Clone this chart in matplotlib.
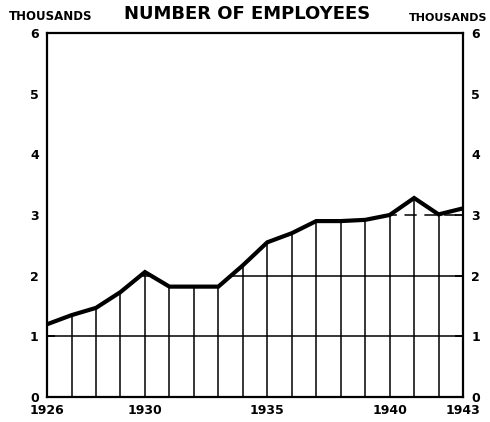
import matplotlib
matplotlib.use("Agg")
import matplotlib.pyplot as plt
import numpy as np

# employees, thousands
years = [1926, 1927, 1928, 1929, 1930, 1931, 1932, 1933, 1934,
         1935, 1936, 1937, 1938, 1939, 1940, 1941, 1942, 1943]
employees = [1.2, 1.35, 1.47, 1.73, 2.06, 1.82, 1.82, 1.82, 2.17,
             2.55, 2.7, 2.9, 2.9, 2.92, 3.0, 3.28, 3.01, 3.11]
year_labels = [1926, 1930, 1935, 1940, 1943]
y_ticks = [0, 1, 2, 3, 4, 5, 6]

fig = plt.figure(figsize=(4.9, 4.22), dpi=100)
ax = fig.add_axes([0.096, 0.059, 0.849, 0.863])

x = np.array(years)
y = np.array(employees)

# horizontal rules, later hidden above the curve
ax.axhline(1, color="black", lw=1.1, zorder=1)
ax.axhline(2, color="black", lw=1.1, zorder=1)
ax.axhline(3, color="black", lw=1.1, ls=(0, (8, 5)), zorder=1)
ax.fill_between(x, y, 6, color="white", zorder=2)

ax.vlines(x, 0, y, color="black", lw=1.1, zorder=3)
ax.plot(x, y, color="black", lw=3.0, solid_joinstyle="miter", zorder=4)

ax.set_xlim(1926, 1943)
ax.set_ylim(0, 6)

for s in ax.spines.values():
    s.set_linewidth(1.6)

ax.set_xticks(year_labels)
ax.set_xticklabels([str(t) for t in year_labels], fontweight="bold", fontsize=9)
ax.tick_params(axis="x", length=0, pad=5)

ax.set_yticks(y_ticks)
ax.set_yticklabels([str(t) for t in y_ticks], fontweight="bold", fontsize=9)
ax.tick_params(axis="y", direction="in", length=6, width=1.3, pad=6,
               left=True, right=True, labelleft=True, labelright=True)

fig.text(0.505, 0.945, "NUMBER OF EMPLOYEES", ha="center", va="bottom",
         fontsize=13, fontweight="bold")
fig.text(0.018, 0.945, "THOUSANDS", ha="left", va="bottom",
         fontsize=8.5, fontweight="bold")
fig.text(0.995, 0.945, "THOUSANDS", ha="right", va="bottom",
         fontsize=8, fontweight="bold")

fig.savefig("out.png", dpi=100)
